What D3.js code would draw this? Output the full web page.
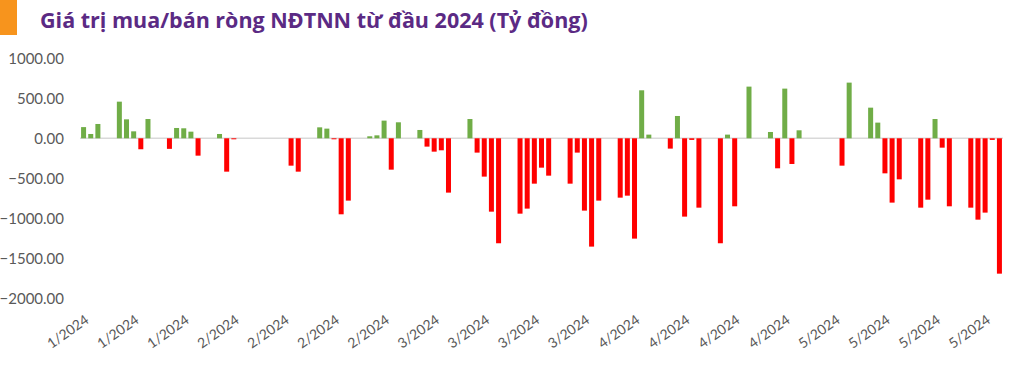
<!DOCTYPE html>
<html>
<head>
<meta charset="utf-8">
<script src="https://cdn.jsdelivr.net/npm/d3@7"></script>
<style>
  body { margin:0; background:#fff; }
  svg { display:block; }
</style>
</head>
<body>
<svg id="chart" width="1021" height="370"></svg>
<script>
// trading days, foreign net buy/sell (billion VND)
const dates = [
  "2024-01-17","2024-01-18","2024-01-19",
  "2024-01-22","2024-01-23","2024-01-24","2024-01-25","2024-01-26",
  "2024-01-29","2024-01-30","2024-01-31","2024-02-01","2024-02-02",
  "2024-02-05","2024-02-06","2024-02-07",
  "2024-02-15","2024-02-16",
  "2024-02-19","2024-02-20","2024-02-21","2024-02-22","2024-02-23",
  "2024-02-26","2024-02-27","2024-02-28","2024-02-29","2024-03-01",
  "2024-03-04","2024-03-05","2024-03-06","2024-03-07","2024-03-08",
  "2024-03-11","2024-03-12","2024-03-13","2024-03-14","2024-03-15",
  "2024-03-18","2024-03-19","2024-03-20","2024-03-21","2024-03-22",
  "2024-03-25","2024-03-26","2024-03-27","2024-03-28","2024-03-29",
  "2024-04-01","2024-04-02","2024-04-03","2024-04-04","2024-04-05",
  "2024-04-08","2024-04-09","2024-04-10","2024-04-11","2024-04-12",
  "2024-04-15","2024-04-16","2024-04-17","2024-04-19",
  "2024-04-22","2024-04-23","2024-04-24","2024-04-25","2024-04-26",
  "2024-05-02","2024-05-03",
  "2024-05-06","2024-05-07","2024-05-08","2024-05-09","2024-05-10",
  "2024-05-13","2024-05-14","2024-05-15","2024-05-16","2024-05-17",
  "2024-05-20","2024-05-21","2024-05-22","2024-05-23","2024-05-24"
];
const values = [
  140, 54, 179,
  458, 237, 87, -137, 241,
  -132, 129, 125, 83, -217,
  54, -417, -10,
  -342, -417,
  137, 121, -8, -950, -779,
  25, 37, 221, -392, 200,
  104, -104, -167, -150, -679,
  241, -179, -479, -917, -1312,
  -942, -879, -567, -367, -467,
  -567, -179, -904, -1354, -779,
  -742, -717, -1254, 600, 46,
  -129, 279, -979, -20, -867,
  -1312, 46, -850, 646,
  79, -375, 621, -321, 100,
  -342, 696,
  383, 196, -438, -804, -513,
  -867, -767, 241, -117, -850,
  -867, -1017, -929, -20, -1692
];
const yTicks = [1000, 500, 0, -500, -1000, -1500, -2000];
const title = "Giá trị mua/bán ròng NĐTNN từ đầu 2024 (Tỷ đồng)";

const parse = d3.timeParse("%Y-%m-%d");
const data = dates.map((d,i)=>({date:parse(d), v:values[i]}));

const svg = d3.select("#chart");

// header
svg.append("rect").attr("x",0).attr("y",0).attr("width",17).attr("height",35).attr("fill","#F7941D");
svg.append("text").attr("x",40).attr("y",28)
  .attr("font-family","'Open Sans', Lato, sans-serif").attr("font-weight",700)
  .attr("font-size",21.5).attr("fill","#5B2A84").text(title);

const first = data[0].date, last = data[data.length-1].date;
const x = d3.scaleTime()
  .domain([d3.timeHour.offset(first,-12), d3.timeHour.offset(last,12)])
  .range([80, 1003]);
const y = d3.scaleLinear().domain([-2000, 1000]).range([298.3, 58.3]);

// zero line
svg.append("line").attr("x1",80).attr("x2",1003)
  .attr("y1",y(0)).attr("y2",y(0)).attr("stroke","#D9D9D9").attr("stroke-width",1.5);

// y labels
const yAxis = d3.axisLeft(y).tickValues(yTicks).tickFormat(d3.format(".2f")).tickSize(0).tickPadding(0);
const gy = svg.append("g").attr("transform","translate(64,0)").call(yAxis);
gy.select(".domain").remove();
gy.selectAll("text").attr("font-family","Lato, sans-serif").attr("font-size",15).attr("fill","#595959");

// bars
const bw = 5;
svg.append("g").selectAll("rect").data(data).join("rect")
  .attr("x", d=>x(d.date)-bw/2)
  .attr("width", bw)
  .attr("y", d=>Math.min(y(d.v), y(0)))
  .attr("height", d=>Math.max(1, Math.abs(y(d.v)-y(0))))
  .attr("fill", d=>d.v>=0 ? "#70AD47" : "#FF0000");

// x labels every 7 days
const xTicks = d3.timeDay.range(first, d3.timeDay.offset(last,1), 7);
const xAxis = d3.axisBottom(x).tickValues(xTicks).tickFormat(d3.timeFormat("%-m/%Y")).tickSize(0).tickPadding(0);
const gx = svg.append("g").attr("transform","translate(0,318)").call(xAxis);
gx.select(".domain").remove();
gx.selectAll("text")
  .attr("font-family","Lato, sans-serif").attr("font-size",14).attr("fill","#595959")
  .attr("text-anchor","end").attr("dy","0.35em")
  .attr("transform","translate(3,0) rotate(-35)");
</script>
</body>
</html>
